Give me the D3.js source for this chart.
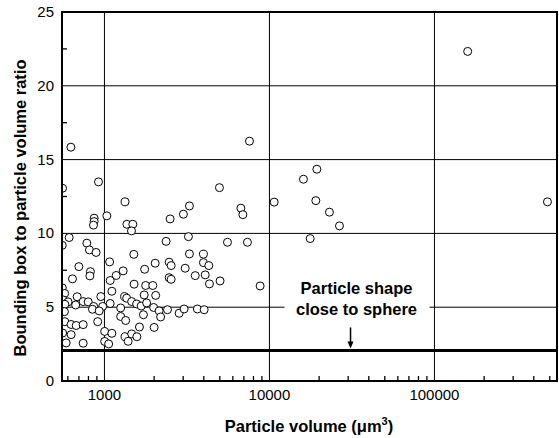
<!DOCTYPE html>
<html>
<head>
<meta charset="utf-8">
<script src="https://cdn.jsdelivr.net/npm/d3@7"></script>
<style>
  body { margin: 0; background: #fff; }
  svg { display: block; font-family: Arial, 'Liberation Sans', sans-serif; }
</style>
</head>
<body>
<svg id="chart" width="559" height="438"></svg>
<script>
// particle volume (um^3) and bounding box / particle volume ratio
const volumes = [
  159000, 626, 7565, 557, 920, 4977, 1334, 10680, 16070, 19380,
  19100, 23100, 26570, 17650, 484100, 3274, 3010, 2500, 6710, 6900,
  1034, 866, 866, 858, 1367, 1486, 1458, 611, 3228, 2364,
  5567, 7356, 555, 782, 811, 890, 1507, 3274, 3980, 1075,
  700, 2030, 2466, 2536, 3980, 4290, 1298, 1752, 822, 816,
  1178, 3085, 3550, 4080, 640, 1083, 2466, 2536, 5020, 4329,
  1513, 1777, 1964, 8780, 555, 574, 1109, 683, 951, 1326,
  1363, 1741, 2044, 562, 602, 743, 797, 575, 669, 860,
  975, 1083, 1254, 1462, 1567, 1669, 1802, 1987, 2145, 2190,
  2410, 2836, 3040, 3658, 4020, 572, 846, 929, 1254, 1344,
  1723, 910, 575, 628, 674, 743, 1630, 2000, 558, 628,
  1003, 1109, 1334, 1462, 1572, 586, 743, 1003, 1060, 1392
]
const ratios = [
  22.33, 15.84, 16.25, 13.06, 13.49, 13.10, 12.14, 12.12, 13.67, 14.35,
  12.22, 11.44, 10.51, 9.65, 12.14, 11.86, 11.30, 10.98, 11.71, 11.27,
  11.19, 11.03, 10.80, 10.56, 10.62, 10.62, 10.17, 9.72, 9.78, 9.46,
  9.40, 9.40, 9.19, 9.34, 8.88, 8.71, 8.58, 8.61, 8.59, 8.07,
  7.75, 7.98, 8.05, 7.82, 8.02, 7.82, 7.46, 7.57, 7.41, 7.12,
  7.15, 7.64, 7.14, 7.19, 6.92, 6.81, 7.00, 6.89, 6.78, 6.58,
  6.56, 6.47, 6.47, 6.44, 6.31, 5.93, 6.08, 5.71, 5.72, 5.72,
  5.61, 5.83, 5.80, 5.49, 5.36, 5.38, 5.36, 5.20, 5.15, 5.05,
  5.05, 5.25, 4.95, 5.38, 5.22, 5.08, 5.29, 4.98, 4.75, 4.34,
  4.83, 4.59, 4.88, 4.88, 4.83, 4.70, 4.86, 4.75, 4.37, 4.10,
  4.49, 4.02, 4.02, 3.83, 3.76, 3.82, 3.66, 3.63, 3.25, 3.14,
  3.36, 3.23, 3.00, 3.19, 3.00, 2.58, 2.56, 2.68, 2.51, 2.69
]

const xLabelTicks = [1000, 10000, 100000]
const yLabelTicks = [0, 5, 10, 15, 20, 25]
const yMinorTicks = [2.5, 7.5, 12.5, 17.5, 22.5]

const sphereRatio = 2.07
const arrowVolume = 31000
const noteLines = ['Particle shape', 'close to sphere']

let svg = d3.select('#chart')

let xScale = d3.scaleLog()
                .domain([553, 553000])
                .range([62, 557])

let yScale = d3.scaleLinear()
                .domain([0, 25])
                .range([381, 12])

let x0 = xScale.range()[0], x1 = xScale.range()[1]
let yTop = yScale.range()[1], yBot = yScale.range()[0]

svg.append('defs').append('clipPath')
    .attr('id', 'plotClip')
    .append('rect')
    .attr('x', x0).attr('y', yTop)
    .attr('width', x1 - x0).attr('height', yBot - yTop)

// grid lines
svg.append('g').selectAll('line')
    .data(xLabelTicks)
    .enter().append('line')
    .attr('x1', (d) => xScale(d)).attr('x2', (d) => xScale(d))
    .attr('y1', yTop).attr('y2', yBot)
    .attr('stroke', '#000').attr('stroke-width', 1)

svg.append('g').selectAll('line')
    .data(yLabelTicks)
    .enter().append('line')
    .attr('x1', x0).attr('x2', x1)
    .attr('y1', (d) => yScale(d)).attr('y2', (d) => yScale(d))
    .attr('stroke', '#000').attr('stroke-width', 1)

// minor ticks, pointing inward
let minorX = xScale.ticks().filter((d) => xLabelTicks.indexOf(d) < 0)
svg.append('g').selectAll('line')
    .data(minorX)
    .enter().append('line')
    .attr('x1', (d) => xScale(d)).attr('x2', (d) => xScale(d))
    .attr('y1', yBot).attr('y2', yBot - 5)
    .attr('stroke', '#000').attr('stroke-width', 1.3)

svg.append('g').selectAll('line')
    .data(yMinorTicks)
    .enter().append('line')
    .attr('x1', x0).attr('x2', x0 + 5)
    .attr('y1', (d) => yScale(d)).attr('y2', (d) => yScale(d))
    .attr('stroke', '#000').attr('stroke-width', 1.3)

// sphere reference line
svg.append('line')
    .attr('x1', x0).attr('x2', x1)
    .attr('y1', yScale(sphereRatio)).attr('y2', yScale(sphereRatio))
    .attr('stroke', '#000').attr('stroke-width', 3)

// annotation
let noteX = xScale(arrowVolume) + 6
svg.append('rect')
    .attr('x', noteX - 72).attr('y', yScale(sphereRatio) - 72)
    .attr('width', 145).attr('height', 46)
    .attr('fill', '#fff')

svg.append('text')
    .attr('text-anchor', 'middle')
    .attr('font-size', 16.5).attr('font-weight', 'bold')
    .selectAll('tspan')
    .data(noteLines)
    .enter().append('tspan')
    .attr('x', noteX)
    .attr('y', (d, i) => yScale(sphereRatio) - 56 + i * 21)
    .text((d) => d)

let ax = xScale(arrowVolume), ay = yScale(sphereRatio)
svg.append('line')
    .attr('x1', ax).attr('x2', ax)
    .attr('y1', ay - 23).attr('y2', ay - 6)
    .attr('stroke', '#000').attr('stroke-width', 1.5)
svg.append('path')
    .attr('d', `M${ax - 3},${ay - 9} L${ax + 3},${ay - 9} L${ax},${ay - 2} Z`)
    .attr('fill', '#000')

// points
svg.append('g')
    .attr('clip-path', 'url(#plotClip)')
    .selectAll('circle')
    .data(volumes.map((v, i) => [v, ratios[i]]))
    .enter().append('circle')
    .attr('cx', (d) => xScale(d[0]))
    .attr('cy', (d) => yScale(d[1]))
    .attr('r', 4)
    .attr('fill', '#fff')
    .attr('stroke', '#000')
    .attr('stroke-width', 1)

// frame
svg.append('rect')
    .attr('x', x0).attr('y', yTop)
    .attr('width', x1 - x0).attr('height', yBot - yTop)
    .attr('fill', 'none')
    .attr('stroke', '#000').attr('stroke-width', 2)

// tick labels
svg.append('g').selectAll('text')
    .data(xLabelTicks)
    .enter().append('text')
    .attr('x', (d) => xScale(d))
    .attr('y', yBot + 19)
    .attr('text-anchor', 'middle')
    .attr('font-size', 15)
    .text((d) => d)

svg.append('g').selectAll('text')
    .data(yLabelTicks)
    .enter().append('text')
    .attr('x', x0 - 8)
    .attr('y', (d) => yScale(d) + 5)
    .attr('text-anchor', 'end')
    .attr('font-size', 15)
    .text((d) => d)

// axis titles
let xTitle = svg.append('text')
    .attr('x', 309)
    .attr('y', 432)
    .attr('text-anchor', 'middle')
    .attr('font-size', 16.5).attr('font-weight', 'bold')
xTitle.append('tspan').text('Particle volume (\u03BCm')
xTitle.append('tspan').attr('dy', -7).attr('font-size', 11).text('3')
xTitle.append('tspan').attr('dy', 7).text(')')

svg.append('text')
    .attr('transform', `translate(26, 208) rotate(-90)`)
    .attr('text-anchor', 'middle')
    .attr('font-size', 16.5).attr('font-weight', 'bold')
    .text('Bounding box to particle volume ratio')
</script>
</body>
</html>
